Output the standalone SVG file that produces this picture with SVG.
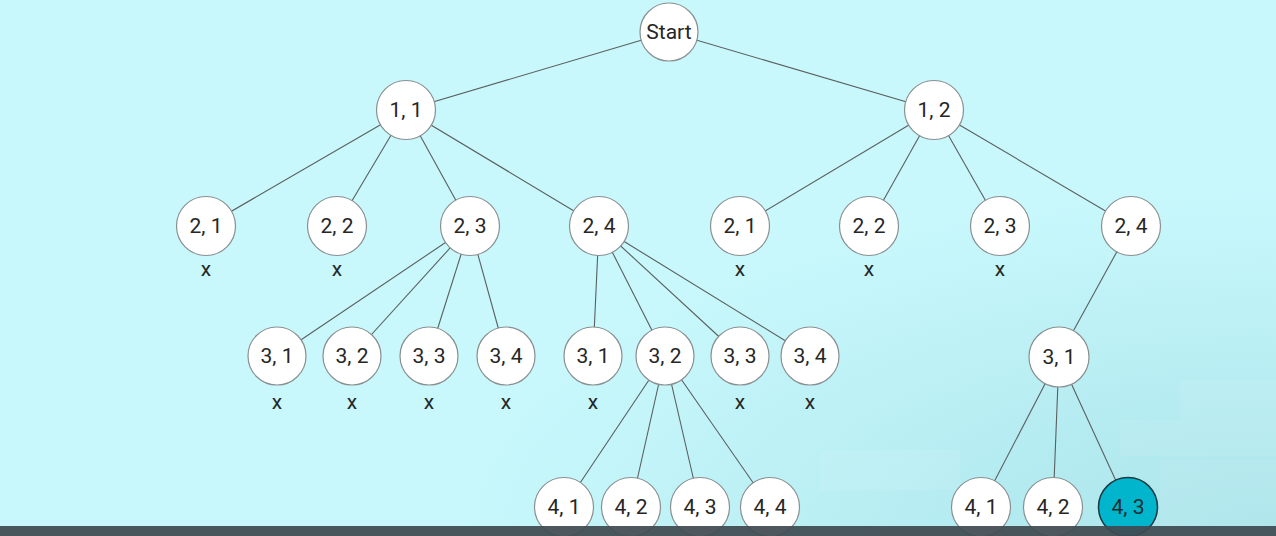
<svg xmlns="http://www.w3.org/2000/svg" width="1276" height="536" viewBox="0 0 1276 536">
<style>
.n circle{fill:#fff;stroke:#8a8f90;stroke-width:1.2}
.n text,.x{font-family:Roboto,"Liberation Sans",sans-serif;font-size:21px;fill:#262626;text-anchor:middle}
.hl circle{fill:#00b5cc;stroke:#1d3a40;stroke-width:1.5}
.hl text{fill:#1c2d31}
#edges line{stroke:#5a5f60;stroke-width:1.1}
.blk{fill:#ffffff;opacity:0.08}
</style>
<defs>
<radialGradient id="bg" cx="1" cy="1" r="0.65">
<stop offset="0" stop-color="#a9e4ea"/>
<stop offset="1" stop-color="#c8f8fc"/>
</radialGradient>
</defs>
<rect width="1276" height="536" fill="#c8f8fc"/>
<rect width="1276" height="536" fill="url(#bg)"/>
<g id="texture">
<rect class="blk" x="1180" y="380" width="96" height="40"/>
<rect class="blk" x="1120" y="420" width="156" height="36"/>
<rect class="blk" x="1160" y="460" width="116" height="66"/>
<rect class="blk" x="820" y="450" width="140" height="40"/>
</g>
<g id="edges">
<line x1="669" y1="32" x2="406" y2="110"/>
<line x1="669" y1="32" x2="934" y2="110"/>
<line x1="406" y1="110" x2="206" y2="226"/>
<line x1="406" y1="110" x2="337" y2="226"/>
<line x1="406" y1="110" x2="470" y2="226"/>
<line x1="406" y1="110" x2="599" y2="226"/>
<line x1="934" y1="110" x2="740" y2="226"/>
<line x1="934" y1="110" x2="869" y2="226"/>
<line x1="934" y1="110" x2="1000" y2="226"/>
<line x1="934" y1="110" x2="1131" y2="226"/>
<line x1="470" y1="226" x2="277" y2="356"/>
<line x1="470" y1="226" x2="352" y2="356"/>
<line x1="470" y1="226" x2="429" y2="356"/>
<line x1="470" y1="226" x2="506" y2="356"/>
<line x1="599" y1="226" x2="593" y2="356"/>
<line x1="599" y1="226" x2="665" y2="356"/>
<line x1="599" y1="226" x2="740" y2="356"/>
<line x1="599" y1="226" x2="810" y2="356"/>
<line x1="1131" y1="226" x2="1059" y2="357"/>
<line x1="665" y1="356" x2="564" y2="507"/>
<line x1="665" y1="356" x2="631" y2="507"/>
<line x1="665" y1="356" x2="700" y2="507"/>
<line x1="665" y1="356" x2="770" y2="507"/>
<line x1="1059" y1="357" x2="981" y2="507"/>
<line x1="1059" y1="357" x2="1053" y2="507"/>
<line x1="1059" y1="357" x2="1128" y2="507"/>
</g>
<g id="n-start" class="n"><circle cx="669" cy="32" r="29"/><text x="669" y="39">Start</text></g>
<g id="n-11" class="n"><circle cx="406" cy="110" r="29.5"/><text x="406" y="117">1, 1</text></g>
<g id="n-12" class="n"><circle cx="934" cy="110" r="29.5"/><text x="934" y="117">1, 2</text></g>
<g id="n-a21" class="n"><circle cx="206" cy="226" r="29.5"/><text x="206" y="233">2, 1</text></g>
<g id="n-a22" class="n"><circle cx="337" cy="226" r="29.5"/><text x="337" y="233">2, 2</text></g>
<g id="n-a23" class="n"><circle cx="470" cy="226" r="29.5"/><text x="470" y="233">2, 3</text></g>
<g id="n-a24" class="n"><circle cx="599" cy="226" r="29.5"/><text x="599" y="233">2, 4</text></g>
<g id="n-b21" class="n"><circle cx="740" cy="226" r="29.5"/><text x="740" y="233">2, 1</text></g>
<g id="n-b22" class="n"><circle cx="869" cy="226" r="29.5"/><text x="869" y="233">2, 2</text></g>
<g id="n-b23" class="n"><circle cx="1000" cy="226" r="29.5"/><text x="1000" y="233">2, 3</text></g>
<g id="n-b24" class="n"><circle cx="1131" cy="226" r="29.5"/><text x="1131" y="233">2, 4</text></g>
<g id="n-a31" class="n"><circle cx="277" cy="356" r="29"/><text x="277" y="363">3, 1</text></g>
<g id="n-a32" class="n"><circle cx="352" cy="356" r="29"/><text x="352" y="363">3, 2</text></g>
<g id="n-a33" class="n"><circle cx="429" cy="356" r="29"/><text x="429" y="363">3, 3</text></g>
<g id="n-a34" class="n"><circle cx="506" cy="356" r="29"/><text x="506" y="363">3, 4</text></g>
<g id="n-b31" class="n"><circle cx="593" cy="356" r="29"/><text x="593" y="363">3, 1</text></g>
<g id="n-b32" class="n"><circle cx="665" cy="356" r="29"/><text x="665" y="363">3, 2</text></g>
<g id="n-b33" class="n"><circle cx="740" cy="356" r="29"/><text x="740" y="363">3, 3</text></g>
<g id="n-b34" class="n"><circle cx="810" cy="356" r="29"/><text x="810" y="363">3, 4</text></g>
<g id="n-c31" class="n"><circle cx="1059" cy="357" r="30"/><text x="1059" y="364">3, 1</text></g>
<g id="n-b41" class="n"><circle cx="564" cy="507" r="29.5"/><text x="564" y="514">4, 1</text></g>
<g id="n-b42" class="n"><circle cx="631" cy="507" r="29.5"/><text x="631" y="514">4, 2</text></g>
<g id="n-b43" class="n"><circle cx="700" cy="507" r="29.5"/><text x="700" y="514">4, 3</text></g>
<g id="n-b44" class="n"><circle cx="770" cy="507" r="29.5"/><text x="770" y="514">4, 4</text></g>
<g id="n-c41" class="n"><circle cx="981" cy="507" r="29.5"/><text x="981" y="514">4, 1</text></g>
<g id="n-c42" class="n"><circle cx="1053" cy="507" r="29.5"/><text x="1053" y="514">4, 2</text></g>
<g id="n-c43" class="n hl"><circle cx="1128" cy="507" r="29.5"/><text x="1128" y="514">4, 3</text></g>
<g id="marks">
<text class="x" x="206" y="276">x</text>
<text class="x" x="337" y="276">x</text>
<text class="x" x="740" y="276">x</text>
<text class="x" x="869" y="276">x</text>
<text class="x" x="1000" y="276">x</text>
<text class="x" x="277" y="409">x</text>
<text class="x" x="352" y="409">x</text>
<text class="x" x="429" y="409">x</text>
<text class="x" x="506" y="409">x</text>
<text class="x" x="593" y="409">x</text>
<text class="x" x="740" y="409">x</text>
<text class="x" x="810" y="409">x</text>
</g>
<rect x="0" y="526" width="1276" height="10" fill="#3f4a51" opacity="0.93"/>
</svg>
